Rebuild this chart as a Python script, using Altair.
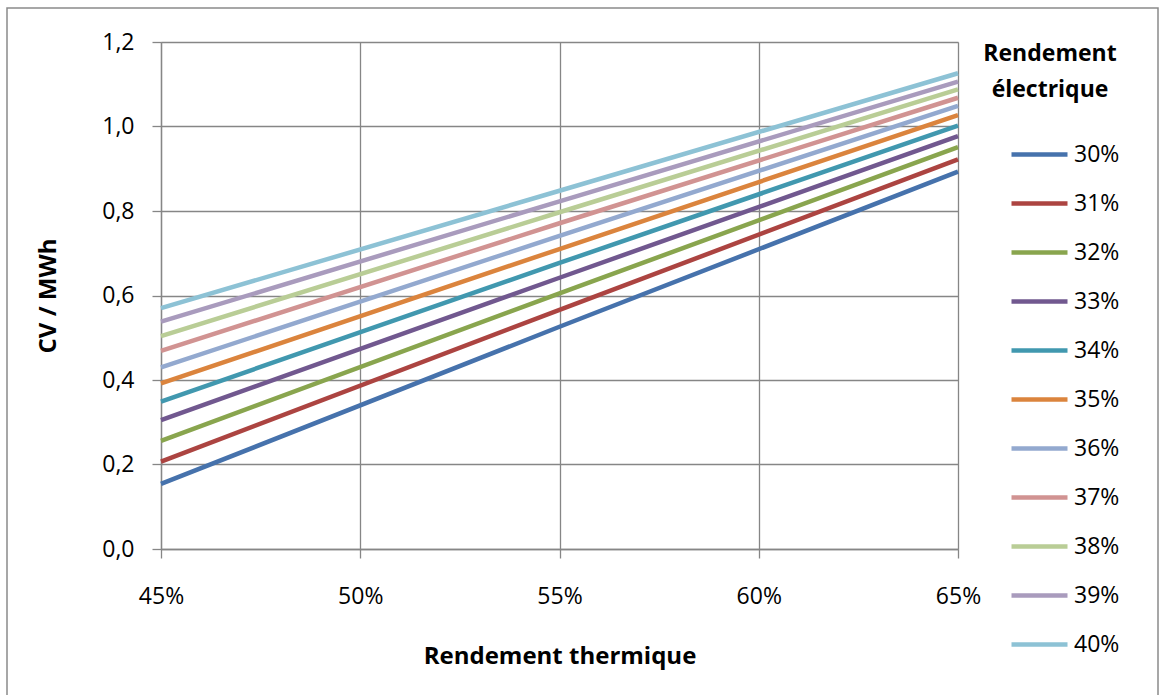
import altair as alt
import pandas as pd

# Rendement thermique (x) points
x_points = [0.45, 0.55, 0.65]
series = ["30%", "31%", "32%", "33%", "34%", "35%", "36%", "37%", "38%", "39%", "40%"]
# CV / MWh values read at 45%, 55%, 65%
v_30 = [0.154, 0.526, 0.893]
v_31 = [0.207, 0.566, 0.922]
v_32 = [0.256, 0.605, 0.951]
v_33 = [0.305, 0.642, 0.977]
v_34 = [0.349, 0.677, 1.002]
v_35 = [0.392, 0.710, 1.027]
v_36 = [0.430, 0.741, 1.049]
v_37 = [0.469, 0.771, 1.068]
v_38 = [0.504, 0.797, 1.088]
v_39 = [0.538, 0.823, 1.106]
v_40 = [0.570, 0.848, 1.126]
all_vals = [v_30, v_31, v_32, v_33, v_34, v_35, v_36, v_37, v_38, v_39, v_40]
colors = ["#4672AC", "#AC4441", "#89A54E", "#71588F", "#4198AF", "#DB843D",
          "#93A9CF", "#D19392", "#B9CD96", "#A99BBD", "#8DC2D5"]
x_ticks = [0.45, 0.50, 0.55, 0.60, 0.65]
y_ticks = [0.0, 0.2, 0.4, 0.6, 0.8, 1.0, 1.2]

rows = []
for s, vals in zip(series, all_vals):
    for xv, yv in zip(x_points, vals):
        rows.append({"serie": s, "x": xv, "y": yv})
df = pd.DataFrame(rows)

FONT = "Open Sans"
W, H = 797, 507

lines = alt.Chart(df).mark_line(strokeWidth=4.5).encode(
    x=alt.X("x:Q",
            scale=alt.Scale(domain=[0.45, 0.65], nice=False, zero=False),
            axis=alt.Axis(values=x_ticks, format=".0%", title="Rendement thermique",
                          grid=True, gridColor="#868686", gridWidth=1.3,
                          domainColor="#868686", domainWidth=1.3,
                          tickColor="#868686", tickSize=9, tickWidth=1.3,
                          labelFont=FONT, labelFontSize=23, labelColor="#000000",
                          labelPadding=27, labelFlush=False,
                          titleFont=FONT, titleFontSize=24, titleFontWeight="bold",
                          titleColor="#000000", titlePadding=36)),
    y=alt.Y("y:Q",
            scale=alt.Scale(domain=[0, 1.2], nice=False),
            axis=alt.Axis(values=y_ticks,
                          labelExpr="replace(format(datum.value, '.1f'), '.', ',')",
                          title="CV / MWh",
                          grid=True, gridColor="#868686", gridWidth=1.3,
                          domainColor="#868686", domainWidth=1.3,
                          tickColor="#868686", tickSize=9, tickWidth=1.3,
                          labelFont=FONT, labelFontSize=23, labelColor="#000000",
                          labelPadding=18,
                          titleFont=FONT, titleFontSize=24, titleFontWeight="bold",
                          titleColor="#000000", titlePadding=41)),
    color=alt.Color("serie:N",
                    scale=alt.Scale(domain=series, range=colors),
                    legend=alt.Legend(title=None, orient="none",
                                      legendX=848, legendY=101,
                                      symbolType="stroke", symbolSize=3136,
                                      symbolStrokeWidth=4.5, clipHeight=23,
                                      rowPadding=25, labelOffset=4,
                                      labelFont=FONT, labelFontSize=23,
                                      labelColor="#000000", padding=0)),
)

legend_title = alt.Chart(pd.DataFrame({"t": ["Rendement\nélectrique"]})).mark_text(
    font=FONT, fontSize=23, fontWeight="bold", align="center", baseline="middle",
    lineBreak="\n", lineHeight=36, color="#000000"
).encode(text="t:N", x=alt.value(889), y=alt.value(12))

border = alt.Chart(pd.DataFrame({"a": [0]})).mark_rect(
    fill=None, stroke="#8a8a8a", strokeWidth=1.5
).encode(x=alt.value(-154), x2=alt.value(997), y=alt.value(-34), y2=alt.value(680))

chart = alt.layer(border, lines, legend_title).properties(
    width=W, height=H,
    padding={"left": 6, "top": 7, "right": 0, "bottom": 0},
).configure_view(strokeWidth=0).configure(background="white")

chart.save("out.html", embed_options={"renderer": "svg", "actions": False})
